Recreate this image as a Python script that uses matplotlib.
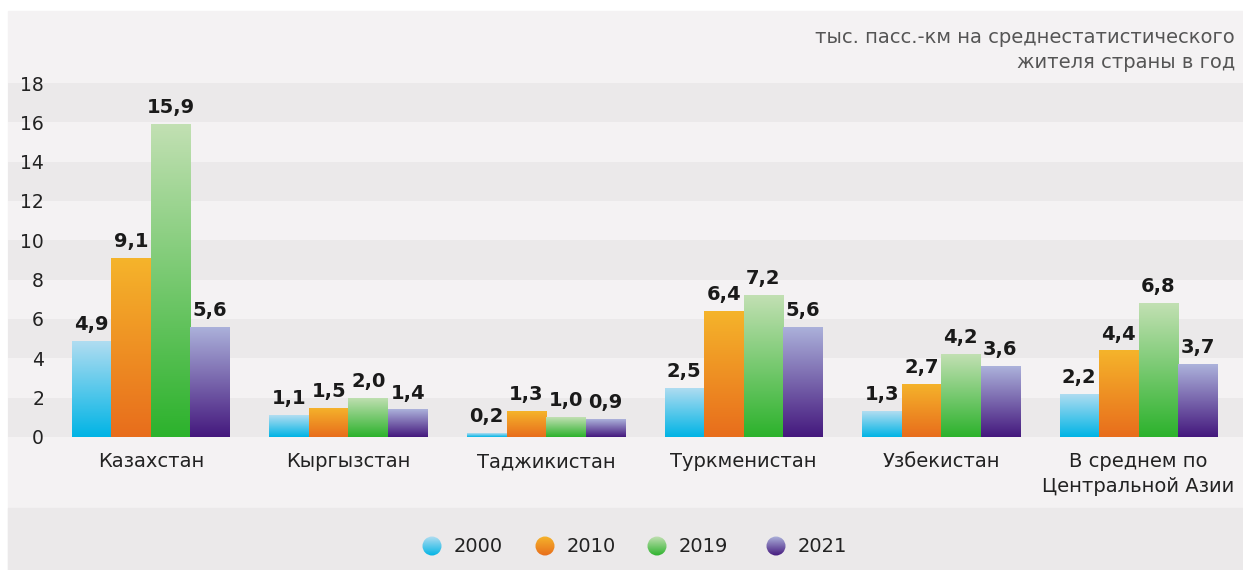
import numpy as np
import matplotlib.pyplot as plt
from matplotlib.colors import LinearSegmentedColormap
from matplotlib.patches import Rectangle, Circle

W, H = 1243, 570

countries = ["Казахстан", "Кыргызстан", "Таджикистан", "Туркменистан",
             "Узбекистан", "В среднем по\nЦентральной Азии"]
years = ["2000", "2010", "2019", "2021"]
v2000 = [4.9, 1.1, 0.2, 2.5, 1.3, 2.2]
v2010 = [9.1, 1.5, 1.3, 6.4, 2.7, 4.4]
v2019 = [15.9, 2.0, 1.0, 7.2, 4.2, 6.8]
v2021 = [5.6, 1.4, 0.9, 5.6, 3.6, 3.7]
series = [v2000, v2010, v2019, v2021]
yticks = [0, 2, 4, 6, 8, 10, 12, 14, 16, 18]
unit_text = "тыс. пасс.-км на среднестатистического\nжителя страны в год"

# top colour -> bottom colour for each year
grads = [("#b2ddf1", "#00b4e5"),
         ("#f5b42b", "#e86d1c"),
         ("#c2e0b3", "#2cb22c"),
         ("#acb2db", "#44187d")]

plt.rcParams["font.family"] = ["DejaVu Sans"]

fig = plt.figure(figsize=(W / 100, H / 100), dpi=100)
fig.patch.set_facecolor("white")

# panel background and legend band
fig.add_artist(Rectangle((8 / W, 0), 1 - 8 / W, (H - 11) / H,
                         transform=fig.transFigure, color="#f4f2f3", zorder=-10))
fig.add_artist(Rectangle((8 / W, 0), 1 - 8 / W, (H - 508) / H,
                         transform=fig.transFigure, color="#ebe9ea", zorder=-9))

ax = fig.add_axes([8 / W, (H - 437) / H, 1 - 8 / W, (437 - 83) / H])
ax.set_facecolor("none")
for s in ax.spines.values():
    s.set_visible(False)

# alternating horizontal stripes
for lo in range(0, 18, 4):
    ax.axhspan(lo, lo + 2, color="#ebe9ea", zorder=0, lw=0)

x = np.arange(len(countries))
bw = 0.2
offsets = (np.arange(len(years)) - 1.5) * bw
for i, vals in enumerate(series):
    cmap = LinearSegmentedColormap.from_list("g%d" % i, [grads[i][1], grads[i][0]])
    bars = ax.bar(x + offsets[i], vals, bw, color="none", lw=0, zorder=2)
    for b, v in zip(bars, vals):
        x0 = b.get_x()
        im = ax.imshow(np.linspace(0, 1, 256).reshape(-1, 1), cmap=cmap,
                       extent=[x0, x0 + b.get_width(), 0, v], origin="lower",
                       aspect="auto", zorder=2)
        im.set_clip_path(b)
        ax.annotate(f"{v:.1f}".replace(".", ","), (x0 + b.get_width() / 2, v),
                    xytext=(0, 5), textcoords="offset points",
                    ha="center", va="bottom", fontsize=14, fontweight="bold",
                    color="#1a1a1a", zorder=3)

ax.set_xlim(-0.724, 5.529)
ax.set_ylim(0, 18)
ax.set_yticks(yticks)
ax.set_yticklabels([str(t) for t in yticks])
ax.set_xticks(x)
ax.set_xticklabels(countries, linespacing=1.35)
ax.tick_params(axis="y", length=0, pad=-26, labelsize=13.5, labelcolor="#222222")
ax.tick_params(axis="x", length=0, pad=11, labelsize=14, labelcolor="#222222")
for lbl in ax.get_yticklabels():
    lbl.set_horizontalalignment("right")

fig.text(1235 / W, (H - 28) / H, unit_text, ha="right", va="top",
         fontsize=14, color="#555555", linespacing=1.4)

# legend with gradient dots
lax = fig.add_axes([0, 0, 1, (H - 508) / H])
lax.axis("off")
leg_x = [432, 545, 657, 776]
for i, yr in enumerate(years):
    cmap = LinearSegmentedColormap.from_list("l%d" % i, [grads[i][1], grads[i][0]])
    c = Circle((leg_x[i], 24), 9.5, color="none", lw=0)
    lax.add_patch(c)
    im = lax.imshow(np.linspace(0, 1, 64).reshape(-1, 1), cmap=cmap,
                    extent=[leg_x[i] - 10, leg_x[i] + 10, 14, 34],
                    origin="lower", aspect="auto")
    im.set_clip_path(c)
    lax.text(leg_x[i] + 22, 24, yr, ha="left", va="center",
             fontsize=14, color="#222222")
lax.set_xlim(0, W)
lax.set_ylim(0, H - 508)

fig.savefig("out.png", dpi=100)
